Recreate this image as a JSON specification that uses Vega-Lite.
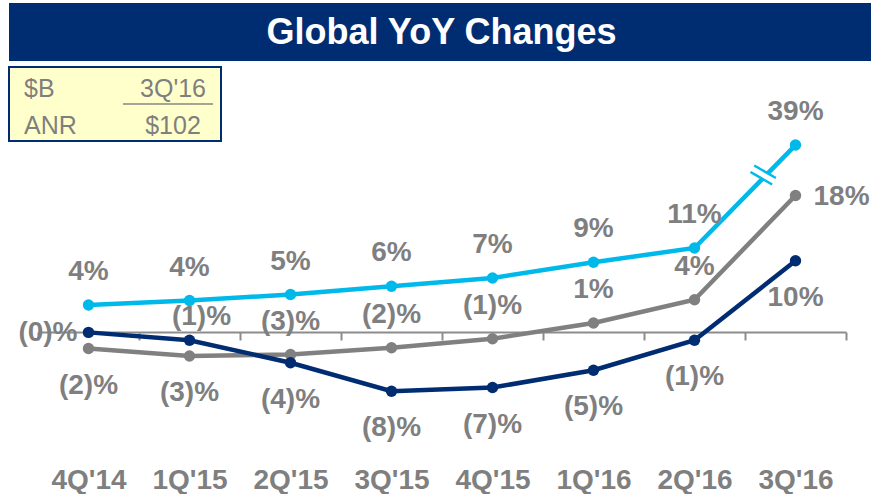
{
  "$schema": "https://vega.github.io/schema/vega-lite/v6.json",
  "padding": {"left": 8, "top": 3, "right": 0, "bottom": 0},
  "background": "white",
  "spacing": 6,
  "bounds": "flush",
  "config": {"view": {"stroke": null}, "font": "Liberation Sans"},
  "vconcat": [
    {
      "width": 863,
      "height": 58,
      "view": {"fill": "#002D72", "stroke": null},
      "data": {"values": [{"t": "Global YoY Changes"}]},
      "mark": {"type": "text", "font": "Liberation Sans", "fontWeight": "bold", "fontSize": 36, "color": "white", "align": "center", "baseline": "middle", "dx": 1, "dy": 1},
      "encoding": {"text": {"field": "t"}}
    },
    {
      "width": 212,
      "height": 74,
      "view": {"fill": "#FFFFCC", "stroke": "#002D72", "strokeWidth": 2},
      "data": {"values": [
        {"row": "r1", "col": "a", "t": "$B"},
        {"row": "r1", "col": "b", "t": "3Q'16"},
        {"row": "r2", "col": "a", "t": "ANR"},
        {"row": "r2", "col": "b", "t": "$102"}
      ]},
      "encoding": {
        "x": {"field": "col", "type": "nominal", "scale": {"type": "band", "domain": ["a", "b"], "paddingInner": 0, "paddingOuter": 0}, "axis": null},
        "y": {"field": "row", "type": "nominal", "bandPosition": 1, "scale": {"type": "band", "domain": ["r1", "r2"], "paddingInner": 0, "paddingOuter": 0}, "axis": null},
        "text": {"field": "t"}
      },
      "layer": [
        {
          "transform": [{"filter": "datum.col === 'a'"}],
          "mark": {"type": "text", "align": "left", "baseline": "alphabetic", "dx": 15, "dy": -7, "fontSize": 25, "color": "#7F7F7F"},
          "encoding": {"x": {"field": "col", "type": "nominal", "bandPosition": 0}}
        },
        {
          "transform": [{"filter": "datum.col === 'b'"}],
          "mark": {"type": "text", "align": "center", "baseline": "alphabetic", "dx": 5, "dy": -7, "fontSize": 25, "color": "#7F7F7F"},
          "encoding": {"x": {"field": "col", "type": "nominal", "bandPosition": 0.5}}
        },
        {
          "transform": [{"filter": "datum.col === 'b' && datum.row === 'r1'"}],
          "mark": {"type": "tick", "orient": "horizontal", "size": 90, "thickness": 2, "color": "#7F7F7F"},
          "encoding": {"x": {"field": "col", "type": "nominal", "bandPosition": 0.62}, "y": {"field": "row", "type": "nominal", "bandPosition": 1}}
        }
      ]
    },
    {
      "width": 862,
      "height": 305,
      "data": {"values": [
        {"quarter": "4Q'14", "series": "Series 1", "value": -2.2, "label": "(2)%", "pos": "below"},
        {"quarter": "1Q'15", "series": "Series 1", "value": -3.2, "label": "(3)%", "pos": "below"},
        {"quarter": "2Q'15", "series": "Series 1", "value": -3.0, "label": "(3)%", "pos": "above"},
        {"quarter": "3Q'15", "series": "Series 1", "value": -2.1, "label": "(2)%", "pos": "above"},
        {"quarter": "4Q'15", "series": "Series 1", "value": -0.9, "label": "(1)%", "pos": "above"},
        {"quarter": "1Q'16", "series": "Series 1", "value": 1.2, "label": "1%", "pos": "above"},
        {"quarter": "2Q'16", "series": "Series 1", "value": 4.3, "label": "4%", "pos": "above"},
        {"quarter": "3Q'16", "series": "Series 1", "value": 18.2, "label": "18%", "pos": "right"},
        {"quarter": "4Q'14", "series": "Series 2", "value": -0.05, "label": "(0)%", "pos": "left"},
        {"quarter": "1Q'15", "series": "Series 2", "value": -1.1, "label": "(1)%", "pos": "upper"},
        {"quarter": "2Q'15", "series": "Series 2", "value": -4.1, "label": "(4)%", "pos": "below"},
        {"quarter": "3Q'15", "series": "Series 2", "value": -7.9, "label": "(8)%", "pos": "below"},
        {"quarter": "4Q'15", "series": "Series 2", "value": -7.4, "label": "(7)%", "pos": "below"},
        {"quarter": "1Q'16", "series": "Series 2", "value": -5.1, "label": "(5)%", "pos": "below"},
        {"quarter": "2Q'16", "series": "Series 2", "value": -1.1, "label": "(1)%", "pos": "below"},
        {"quarter": "3Q'16", "series": "Series 2", "value": 9.5, "label": "10%", "pos": "below"},
        {"quarter": "4Q'14", "series": "Series 3", "value": 3.6, "label": "4%", "pos": "above"},
        {"quarter": "1Q'15", "series": "Series 3", "value": 4.2, "label": "4%", "pos": "above"},
        {"quarter": "2Q'15", "series": "Series 3", "value": 5.0, "label": "5%", "pos": "above"},
        {"quarter": "3Q'15", "series": "Series 3", "value": 6.1, "label": "6%", "pos": "above"},
        {"quarter": "4Q'15", "series": "Series 3", "value": 7.2, "label": "7%", "pos": "above"},
        {"quarter": "1Q'16", "series": "Series 3", "value": 9.3, "label": "9%", "pos": "above"},
        {"quarter": "2Q'16", "series": "Series 3", "value": 11.2, "label": "11%", "pos": "above"},
        {"quarter": "3Q'16", "series": "Series 3", "value": 39, "label": "39%", "pos": "above"}
      ]},
      "encoding": {
        "x": {
          "field": "quarter", "type": "nominal", "sort": null,
          "scale": {"type": "band", "range": [29, 837], "paddingInner": 0, "paddingOuter": 0},
          "axis": {
            "title": null, "orient": "bottom", "offset": -120, "labelAngle": 0,
            "domainColor": "#8C8C8C", "domainWidth": 2,
            "tickColor": "#8C8C8C", "tickWidth": 2, "tickSize": 8, "tickBand": "extent",
            "labelFont": "Liberation Sans", "labelFontSize": 28, "labelFontWeight": "bold",
            "labelColor": "#7F7F7F", "labelPadding": 126, "grid": false
          }
        },
        "y": {
          "field": "value", "type": "quantitative",
          "scale": {"domain": [-16, 20, 38], "range": [305, 35, 0], "zero": false, "nice": false},
          "axis": null
        }
      },
      "layer": [
        {
          "mark": {"type": "line", "strokeWidth": 4.5},
          "encoding": {
            "color": {"field": "series", "type": "nominal", "scale": {"domain": ["Series 1", "Series 2", "Series 3"], "range": ["#808080", "#002D72", "#00B9EB"]}, "legend": null}
          }
        },
        {
          "mark": {"type": "circle", "size": 130, "opacity": 1},
          "encoding": {
            "color": {"field": "series", "type": "nominal", "legend": null}
          }
        },
        {
          "data": {"values": [{"quarter": "3Q'16", "value": 23.6}]},
          "mark": {"type": "point", "shape": "M -0.9 -0.3 L 0.9 -0.3 L 0.9 0.3 L -0.9 0.3 Z", "filled": true, "fill": "white", "strokeWidth": 0, "opacity": 1, "size": 625, "angle": 30},
          "encoding": {"x": {"field": "quarter", "type": "nominal", "bandPosition": 0.18}}
        },
        {
          "data": {"values": [{"quarter": "3Q'16", "value": 23.6}]},
          "mark": {"type": "point", "shape": "M -1 -0.3 L 1 -0.3 M -1 0.3 L 1 0.3", "filled": false, "stroke": "#00B9EB", "strokeWidth": 2.5, "opacity": 1, "size": 625, "angle": 30},
          "encoding": {"x": {"field": "quarter", "type": "nominal", "bandPosition": 0.18}}
        },
        {
          "transform": [{"filter": "datum.pos === 'above'"}],
          "mark": {"type": "text", "fontSize": 28, "fontWeight": "bold", "color": "#7F7F7F", "align": "center", "baseline": "middle", "dy": -33},
          "encoding": {"text": {"field": "label"}}
        },
        {
          "transform": [{"filter": "datum.pos === 'below'"}],
          "mark": {"type": "text", "fontSize": 28, "fontWeight": "bold", "color": "#7F7F7F", "align": "center", "baseline": "middle", "dy": 37},
          "encoding": {"text": {"field": "label"}}
        },
        {
          "transform": [{"filter": "datum.pos === 'upper'"}],
          "mark": {"type": "text", "fontSize": 28, "fontWeight": "bold", "color": "#7F7F7F", "align": "center", "baseline": "middle", "dy": -23, "dx": 12},
          "encoding": {"text": {"field": "label"}}
        },
        {
          "transform": [{"filter": "datum.pos === 'left'"}],
          "mark": {"type": "text", "fontSize": 28, "fontWeight": "bold", "color": "#7F7F7F", "align": "right", "baseline": "middle", "dx": -11, "dy": 1},
          "encoding": {"text": {"field": "label"}}
        },
        {
          "transform": [{"filter": "datum.pos === 'right'"}],
          "mark": {"type": "text", "fontSize": 28, "fontWeight": "bold", "color": "#7F7F7F", "align": "left", "baseline": "middle", "dx": 18, "dy": 1},
          "encoding": {"text": {"field": "label"}}
        }
      ]
    }
  ]
}
